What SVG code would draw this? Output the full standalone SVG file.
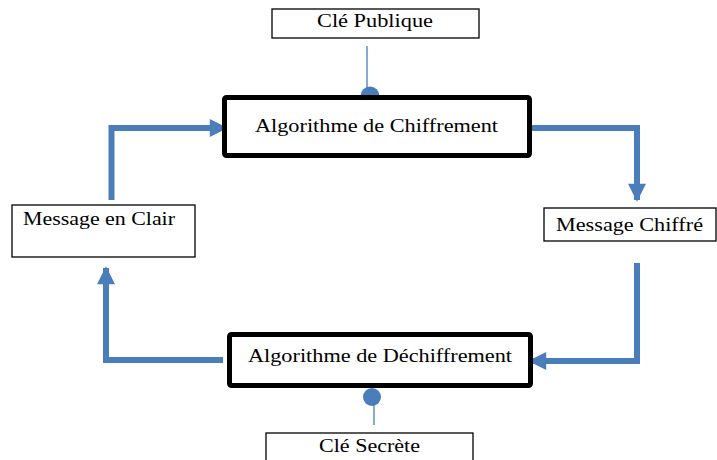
<svg xmlns="http://www.w3.org/2000/svg" width="717" height="460" viewBox="0 0 717 460">
<defs>
<style>
.box{fill:#fff;stroke:#000;stroke-width:1.3}
.algo{fill:#fff;stroke:#000;stroke-width:5}
.t{font-family:"Liberation Serif","Times New Roman",serif;font-size:19px;fill:#000}
.flow{fill:none;stroke:#4A7EBB;stroke-width:6}
.thin{stroke:#4A7EBB;stroke-width:1.3}
.dot{fill:#4A7EBB}
</style>
<marker id="ah" viewBox="0 0 10 10" refX="9" refY="5" markerWidth="3.3" markerHeight="3" orient="auto" markerUnits="strokeWidth">
<path d="M0,0 L10,5 L0,10 z" fill="#4A7EBB"/>
</marker>
</defs>
<g id="connectors">
<path class="flow" d="M111.5,200 V128 H226" marker-end="url(#ah)"/>
<path class="flow" d="M532,128 H637 V200" marker-end="url(#ah)"/>
<path class="flow" d="M637,263 V361 H530" marker-end="url(#ah)"/>
<path class="flow" d="M223,360 H106 V268" marker-end="url(#ah)"/>
<line class="thin" x1="367" y1="46" x2="367" y2="96"/>
<circle class="dot" cx="370" cy="96" r="9.5"/>
<line class="thin" x1="374" y1="397" x2="374" y2="425"/>
<circle class="dot" cx="372" cy="397" r="9"/>
</g>
<g id="cle-publique">
<rect class="box" x="272" y="9" width="207" height="29"/>
<text class="t" x="317" y="27" textLength="116" lengthAdjust="spacingAndGlyphs">Clé Publique</text>
</g>
<g id="algo-chiffrement">
<rect class="algo" x="224.5" y="97.5" width="305" height="58" rx="2"/>
<text class="t" x="255" y="132" textLength="243" lengthAdjust="spacingAndGlyphs">Algorithme de Chiffrement</text>
</g>
<g id="message-clair">
<rect class="box" x="12" y="205" width="183" height="52"/>
<text class="t" x="23" y="225" textLength="152" lengthAdjust="spacingAndGlyphs">Message en Clair</text>
</g>
<g id="message-chiffre">
<rect class="box" x="544" y="208" width="172" height="33"/>
<text class="t" x="556" y="231" textLength="147" lengthAdjust="spacingAndGlyphs">Message Chiffré</text>
</g>
<g id="algo-dechiffrement">
<rect class="algo" x="229.5" y="334.5" width="301" height="51" rx="2"/>
<text class="t" x="248" y="362" textLength="264" lengthAdjust="spacingAndGlyphs">Algorithme de Déchiffrement</text>
</g>
<g id="cle-secrete">
<rect class="box" x="266" y="433" width="207" height="30"/>
<text class="t" x="319" y="452" textLength="101" lengthAdjust="spacingAndGlyphs">Clé Secrète</text>
</g>
</svg>
